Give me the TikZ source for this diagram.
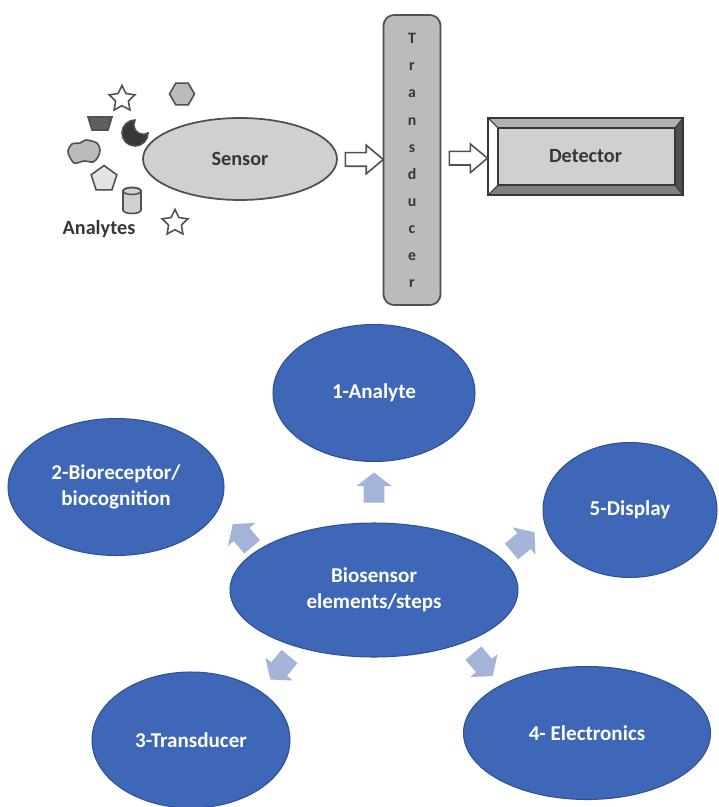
\documentclass[tikz,border=0pt]{standalone}
\usepackage{fontspec}
\setmainfont{Carlito}
\usetikzlibrary{shapes.geometric,shapes.arrows,calc}

\definecolor{stepblue}{RGB}{62,103,183}
\definecolor{stepedge}{RGB}{45,80,150}
\definecolor{paleblue}{RGB}{163,180,216}
\definecolor{lightgrey}{RGB}{208,208,208}
\definecolor{edgegrey}{RGB}{80,80,80}
\definecolor{inkgrey}{RGB}{55,55,55}

\begin{document}
\begin{tikzpicture}[x=0.02cm,y=-0.02cm,
    stepnode/.style={shape=ellipse,fill=stepblue,draw=stepedge,line width=0.6pt,text=white,
      font=\fontsize{12}{15}\selectfont\bfseries,align=center,inner sep=0pt},
    flowarrow/.style={shape=single arrow,fill=paleblue,draw=none,minimum height=0.6cm,
      minimum width=0.7cm,inner sep=0.2cm,single arrow head extend=0.15cm,single arrow tip angle=105},
    openarrow/.style={shape=single arrow,fill=white,draw=edgegrey,line width=0.9pt,minimum height=0.76cm,
      inner sep=0.12cm,single arrow head extend=0.15cm,single arrow tip angle=80},
    greytext/.style={text=inkgrey,font=\fontsize{11.5}{13}\selectfont\bfseries},
    analyte/.style={draw=edgegrey,line width=0.9pt,inner sep=0pt}]
    \useasboundingbox (0,0) rectangle (718,807);

    % sensor chain
    \node[shape=ellipse,fill=lightgrey,draw=edgegrey,line width=1pt,minimum width=3.88cm,
      minimum height=1.64cm,greytext] (sensor) at (240,159) {Sensor};
    \node[fill=lightgrey!90!black,draw=edgegrey,line width=1pt,rounded corners=6pt,
      minimum width=1.14cm,minimum height=5.8cm,align=center,text=inkgrey,
      font=\fontsize{9}{15.4}\selectfont\bfseries] (trans) at (412,160) {\\[-9pt]T\\r\\a\\n\\s\\d\\u\\c\\e\\r};
    \node[fill=lightgrey,draw=inkgrey,line width=0.8pt,minimum width=3.9cm,minimum height=1.54cm,
      greytext] (det) at (585.5,156.5) {Detector};
    \fill[lightgrey!85!black] (488,118) -- (683,118) -- (675,128) -- (498,128) -- cycle;
    \fill[white] (488,118) -- (498,128) -- (498,185) -- (488,195) -- cycle;
    \fill[edgegrey] (683,118) -- (683,195) -- (675,185) -- (675,128) -- cycle;
    \fill[gray] (488,195) -- (683,195) -- (675,185) -- (498,185) -- cycle;
    \draw[inkgrey,line width=0.8pt] (488,118) rectangle (683,195);
    \draw[inkgrey,line width=0.8pt] (498,128) rectangle (675,185);
    \draw[inkgrey,line width=0.6pt] (488,118) -- (498,128) (683,118) -- (675,128)
      (683,195) -- (675,185) (488,195) -- (498,185);

    \node[openarrow] (a1) at ($(sensor.east)!0.5!(trans.west)$) {};
    \node[openarrow] (a2) at ($(trans.east)!0.5!(det.west)$) {};

    % analytes
    \node[analyte,star,star points=5,star point ratio=2.0,fill=white,minimum size=0.54cm] (star1) at (122,99) {};
    \node[analyte,regular polygon,regular polygon sides=6,fill=lightgrey!90!black,minimum size=0.5cm] (hexa) at (182,94) {};
    \node[analyte,regular polygon,regular polygon sides=5,fill=lightgrey!60,minimum size=0.54cm] (penta) at (104,179) {};
    \node[analyte,star,star points=5,star point ratio=2.0,fill=white,minimum size=0.54cm] (star2) at (175,223) {};
    \filldraw[draw=edgegrey,fill=lightgrey,line width=0.9pt] (123,191) -- (123,210)
      arc[start angle=180,end angle=0,x radius=9,y radius=3.5] -- (141,191)
      arc[start angle=0,end angle=-180,x radius=9,y radius=3.5] -- cycle;
    \draw[edgegrey,line width=0.9pt] (132,191) ellipse[x radius=9,y radius=3.5];
    \filldraw[draw=edgegrey,fill=inkgrey!80,line width=0.9pt] (88,117) -- (112,117) -- (108,130) -- (92,130) -- cycle;
    \filldraw[draw=edgegrey,fill=inkgrey,line width=0.9pt] (135,120) arc[start angle=270,end angle=0,radius=13]
      arc[start angle=60,end angle=210,radius=9.5] -- cycle;
    \filldraw[draw=edgegrey,fill=lightgrey!90!black,line width=0.9pt] plot[smooth cycle] coordinates
      {(68,152) (72,144) (80,143) (86,140) (97,143) (100,150) (98,157) (93,162) (84,161) (74,163)};
    \node[greytext] (lbl) at (99,229) {Analytes};

    % biosensor elements
    \node[stepnode,minimum width=5.76cm,minimum height=2.68cm] (hub) at (374,590) {Biosensor\\elements/steps};
    \node[stepnode,minimum width=4.04cm,minimum height=2.74cm] (analyte) at (374,393) {1-Analyte};
    \node[stepnode,minimum width=4.32cm,minimum height=2.74cm] (bio) at (116,487) {2-Bioreceptor/\\biocognition};
    \node[stepnode,minimum width=3.96cm,minimum height=2.72cm] (trd) at (191,740) {3-Transducer};
    \node[stepnode,minimum width=4.94cm,minimum height=2.66cm] (elec) at (587,733) {4- Electronics};
    \node[stepnode,minimum width=3.48cm,minimum height=2.7cm] (disp) at (630,510) {5-Display};

    \node[flowarrow,rotate=90] (f1) at ($(hub)!0.5!(analyte)$) {};
    \node[flowarrow,rotate=130] (f2) at ($(hub)!0.5!(bio)$) {};
    \node[flowarrow,rotate=230] (f3) at ($(hub)!0.5!(trd)$) {};
    \node[flowarrow,rotate=310] (f4) at ($(hub)!0.5!(elec)$) {};
    \node[flowarrow,rotate=40] (f5) at ($(hub)!0.57!(disp)$) {};
\end{tikzpicture}
\end{document}
